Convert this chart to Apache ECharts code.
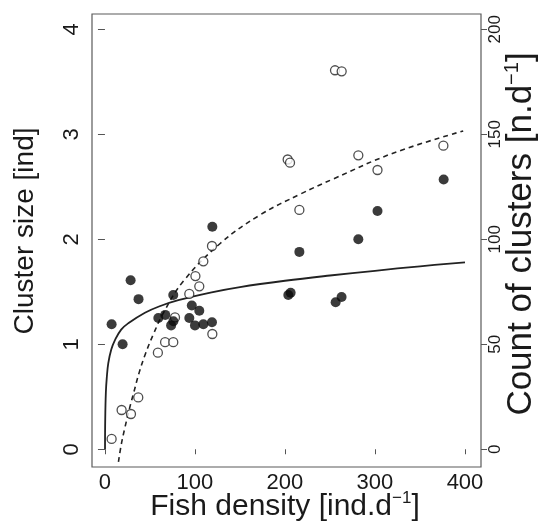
<!DOCTYPE html>
<html>
<head>
<meta charset="utf-8">
<script src="https://cdn.jsdelivr.net/npm/echarts@6/dist/echarts.min.js"></script>
<style>
html,body{margin:0;padding:0;background:#fff;}
#chart{width:539px;height:526px;}
</style>
</head>
<body>
<div id="chart"></div>
<script>
// Cluster size (filled circles, left axis)
var sizeDensity = [7.4, 19.6, 28.5, 37.3, 59.3, 67, 73.5, 76, 75.9, 93.7, 96.5, 100, 104.8, 109.3, 118.9, 119.3, 203.7, 206.3, 216, 256.3, 262.9, 281.5, 302.8, 376.3];
var sizeValues  = [1.19, 1.0, 1.61, 1.43, 1.25, 1.28, 1.18, 1.22, 1.47, 1.25, 1.37, 1.18, 1.32, 1.19, 1.21, 2.12, 1.47, 1.49, 1.88, 1.40, 1.45, 2.0, 2.27, 2.57];

// Count of clusters (open circles, right axis)
var countDensity = [7.4, 18.5, 28.9, 37, 58.8, 66.8, 75.9, 77.8, 93.7, 100.5, 104.8, 109.3, 118.9, 119.3, 203, 205.6, 216, 255.6, 263, 281.5, 302.8, 376];
var countValues  = [4.9, 18.7, 16.8, 24.7, 46, 51, 51, 62.8, 74, 82.5, 77.6, 89.5, 96.8, 54.9, 138, 136.5, 114, 180.5, 180, 140, 133, 144.6];

// Fitted curve for cluster size (solid)
var sizeFitX = [0.07, 0.3, 1, 2, 3.7, 7, 11.1, 18, 25.9, 44.4, 60, 81.5, 118.5, 150, 200, 250, 300, 350, 400];
var sizeFitY = [0, 0.29, 0.54, 0.68, 0.82, 0.95, 1.04, 1.14, 1.2, 1.3, 1.36, 1.42, 1.495, 1.545, 1.605, 1.655, 1.70, 1.743, 1.78];

// Fitted curve for count (dashed)
var countFitX = [15, 18, 22, 27, 32, 38, 45, 54, 65, 87, 128, 172, 217, 254, 320, 398];
var countFitY = [-6, 2, 10, 19, 27, 36.5, 45.5, 55, 65, 80, 98, 111.5, 121.5, 128.8, 141, 151.6];

// Tick labels
var xTicks = [0, 100, 200, 300, 400];
var leftTicks = [0, 1, 2, 3, 4];
var rightTicks = [0, 50, 100, 150, 200];

function zip(a, b) { return a.map(function (v, i) { return [v, b[i]]; }); }

var FONT = '"Liberation Sans", Arial, sans-serif';
var INK = '#1a1a1a';

var chart = echarts.init(document.getElementById('chart'), null, {renderer: 'canvas'});
chart.setOption({
  backgroundColor: '#ffffff',
  animation: false,
  grid: {left: 92, right: 58, top: 14, bottom: 59, show: true, borderColor: '#5a5a5a', borderWidth: 1.2, backgroundColor: 'transparent'},
  xAxis: {
    type: 'value', min: -14.4, max: 417.8,
    axisLine: {show: false},
    splitLine: {show: false},
    axisTick: {show: true, customValues: xTicks, length: 5, lineStyle: {color: '#555'}},
    axisLabel: {customValues: xTicks, fontSize: 22, fontFamily: FONT, color: INK, margin: 5}
  },
  yAxis: [
    {
      type: 'value', min: -0.169, max: 4.146, position: 'left',
      axisLine: {show: false},
      splitLine: {show: false},
      axisTick: {show: true, customValues: leftTicks, length: 7, lineStyle: {color: '#555'}},
      axisLabel: {customValues: leftTicks, rotate: 90, fontSize: 22, fontFamily: FONT, color: INK, margin: 9}
    },
    {
      type: 'value', min: -8.45, max: 207.3, position: 'right',
      axisLine: {show: false},
      splitLine: {show: false},
      axisTick: {show: true, customValues: rightTicks, length: 6, lineStyle: {color: '#555'}},
      axisLabel: {customValues: rightTicks, rotate: 90, fontSize: 17, fontFamily: FONT, color: INK, margin: 6}
    }
  ],
  series: [
    {
      type: 'line', yAxisIndex: 0, data: zip(sizeFitX, sizeFitY),
      showSymbol: false, smooth: 0.4,
      lineStyle: {color: '#222', width: 1.8}, z: 2
    },
    {
      type: 'line', yAxisIndex: 1, data: zip(countFitX, countFitY),
      showSymbol: false, smooth: 0.4,
      lineStyle: {color: '#222', width: 1.6, type: [5, 4]}, z: 2
    },
    {
      type: 'scatter', yAxisIndex: 1, data: zip(countDensity, countValues),
      symbol: 'circle', symbolSize: 9,
      itemStyle: {color: '#fff', borderColor: '#222', borderWidth: 1.3}, z: 3
    },
    {
      type: 'scatter', yAxisIndex: 0, data: zip(sizeDensity, sizeValues),
      symbol: 'circle', symbolSize: 10,
      itemStyle: {color: '#0a0a0a'}, z: 4
    }
  ],
  graphic: [
    {
      type: 'text', x: 285, y: 507,
      style: {
        text: '{a|Fish density [ind.d}{s|−1}{a|]}',
        textAlign: 'center', textVerticalAlign: 'middle', align: 'center', verticalAlign: 'middle',
        fill: INK,
        rich: {
          a: {fontSize: 30, fontFamily: FONT, color: INK, lineHeight: 34},
          s: {fontSize: 17, fontFamily: FONT, color: INK, verticalAlign: 'top', lineHeight: 34, padding: [0, 0, 14, 0]}
        }
      }
    },
    {
      type: 'text', x: 25, y: 231, rotation: Math.PI / 2,
      style: {
        text: 'Cluster size [ind]',
        textAlign: 'center', textVerticalAlign: 'middle', align: 'center', verticalAlign: 'middle',
        fill: INK, font: '28px ' + FONT
      }
    },
    {
      type: 'text', x: 521, y: 234, rotation: Math.PI / 2,
      style: {
        text: '{a|Count of clusters [n.d}{s|−1}{a|]}',
        textAlign: 'center', textVerticalAlign: 'middle', align: 'center', verticalAlign: 'middle',
        fill: INK,
        rich: {
          a: {fontSize: 35, fontFamily: FONT, color: INK, lineHeight: 38},
          s: {fontSize: 20, fontFamily: FONT, color: INK, verticalAlign: 'top', lineHeight: 38, padding: [0, 0, 15, 0]}
        }
      }
    }
  ]
});
</script>
</body>
</html>
